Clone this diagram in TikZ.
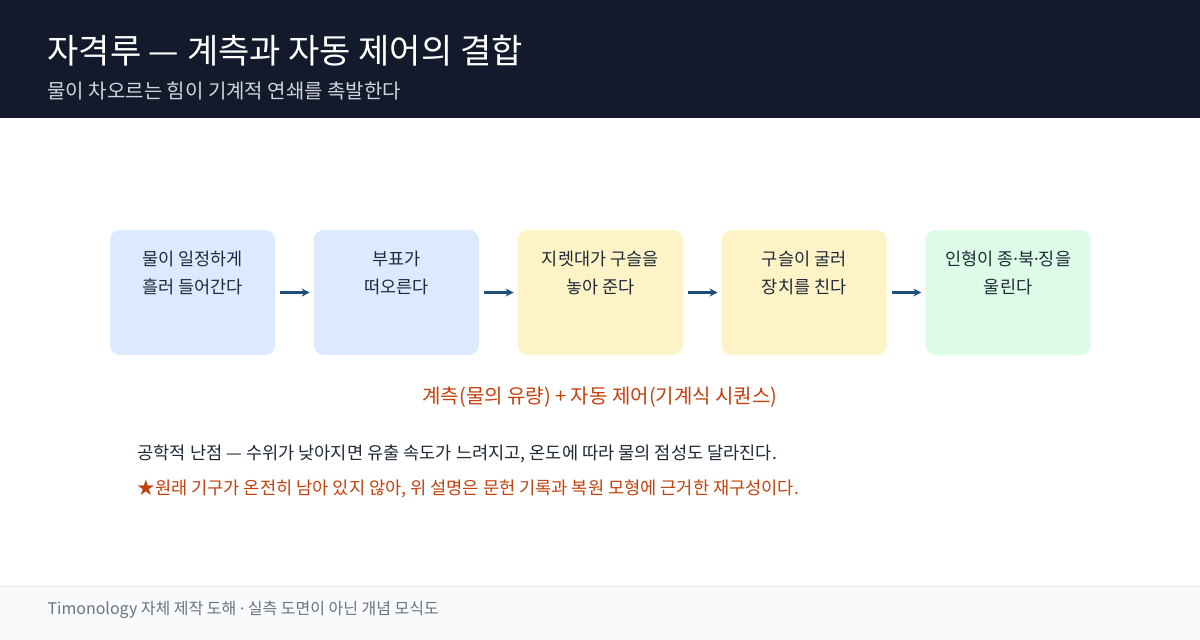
\documentclass[tikz,border=0pt]{standalone}
\usepackage{fontspec}
\setmainfont{Noto Sans CJK KR}
\newfontfamily\latinfont{Noto Sans}
\usetikzlibrary{positioning,arrows.meta}
\definecolor{headbg}{HTML}{131A2B}
\definecolor{subgray}{HTML}{D1D5DB}
\definecolor{boxblue}{HTML}{DBEAFE}
\definecolor{boxyellow}{HTML}{FEF3C7}
\definecolor{boxgreen}{HTML}{DCFCE7}
\definecolor{inkdark}{HTML}{1F2937}
\definecolor{flowblue}{HTML}{1E4D7B}
\definecolor{notered}{HTML}{C2410C}
\definecolor{footbg}{HTML}{F8FAFC}
\definecolor{footline}{HTML}{E5E7EB}
\definecolor{footgray}{HTML}{6B7280}
\newcommand{\flowarrow}{-{Stealth[length=8pt,width=8pt]}}
\newcommand{\mdot}{{\latinfont ·}}
\tikzset{
  stagebox/.style={rectangle,rounded corners=10pt,minimum width=165pt,minimum height=125pt,inner sep=0pt},
  stagetext/.style={anchor=north,align=center,inner sep=0pt,text=inkdark,font=\fontsize{17.5}{28}\selectfont},
  flowline/.style={\flowarrow,draw=flowblue,line width=3pt,shorten <=5pt,shorten >=4pt}
}

\begin{document}
\begin{tikzpicture}[x=1pt,y=-1pt]
  \useasboundingbox (0,0) rectangle (1200,640);
  \fill[white] (0,0) rectangle (1200,640);
  % header
  \fill[headbg] (0,0) rectangle (1200,118);
  \node[anchor=west,text=white,font=\fontsize{34}{40}\selectfont] (title) at (44,51) {자격루 — 계측과 자동 제어의 결합};
  \node[anchor=west,text=subgray,font=\fontsize{20}{24}\selectfont] (subtitle) at (44,91) {물이 차오르는 힘이 기계적 연쇄를 촉발한다};

  % stages
  \node[stagebox,fill=boxblue] (inflow) at (192.5,292.5) {};
  \node[stagebox,fill=boxblue,right=38.5pt of inflow] (float) {};
  \node[stagebox,fill=boxyellow,right=38.5pt of float] (lever) {};
  \node[stagebox,fill=boxyellow,right=38.5pt of lever] (ball) {};
  \node[stagebox,fill=boxgreen,right=38.5pt of ball] (doll) {};

  \node[stagetext] (inflowtxt) at ([yshift=-21pt]inflow.north) {물이 일정하게\\흘러 들어간다};
  \node[stagetext] (floattxt) at ([yshift=-21pt]float.north) {부표가\\떠오른다};
  \node[stagetext] (levertxt) at ([yshift=-21pt]lever.north) {지렛대가 구슬을\\놓아 준다};
  \node[stagetext] (balltxt) at ([yshift=-21pt]ball.north) {구슬이 굴러\\장치를 친다};
  \node[stagetext] (dolltxt) at ([yshift=-21pt]doll.north) {인형이 종\mdot 북\mdot 징을\\울린다};

  \draw[flowline] (inflow) -- (float);
  \draw[flowline] (float) -- (lever);
  \draw[flowline] (lever) -- (ball);
  \draw[flowline] (ball) -- (doll);

  % notes
  \node[text=notered,font=\fontsize{20}{24}\selectfont] (summary) at (600,397) {계측(물의 유량) + 자동 제어(기계식 시퀀스)};
  \node[anchor=west,text=inkdark,font=\fontsize{17.6}{20}\selectfont] (hard) at (134,454) {공학적 난점 — 수위가 낮아지면 유출 속도가 느려지고, 온도에 따라 물의 점성도 달라진다.};
  \node[anchor=west,text=notered,font=\fontsize{17.6}{20}\selectfont] (caveat) at (134,489) {★원래 기구가 온전히 남아 있지 않아, 위 설명은 문헌 기록과 복원 모형에 근거한 재구성이다.};

  % footer
  \fill[footbg] (0,586) rectangle (1200,640);
  \draw[footline] (0,586) -- (1200,586);
  \node[anchor=west,text=footgray,font=\fontsize{16}{20}\selectfont] (credit) at (44,610) {Timonology 자체 제작 도해 \mdot{} 실측 도면이 아닌 개념 모식도};
\end{tikzpicture}
\end{document}
